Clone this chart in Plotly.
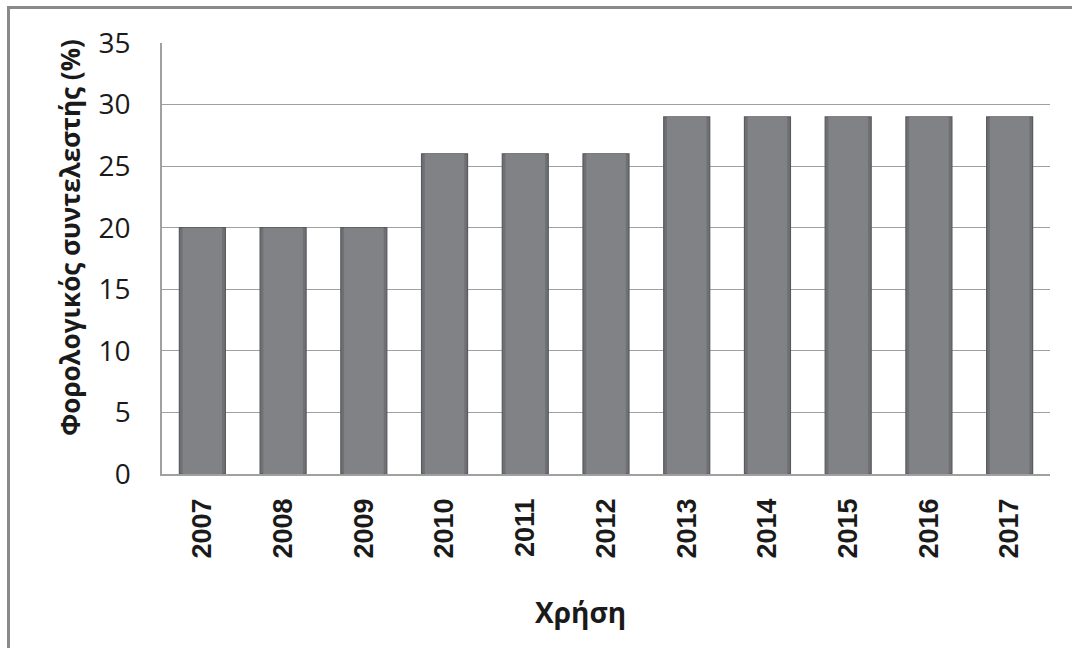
import plotly.graph_objects as go

# Tax rate by fiscal year
years = ["2007", "2008", "2009", "2010", "2011", "2012",
         "2013", "2014", "2015", "2016", "2017"]
rates = [20, 20, 20, 26, 26, 26, 29, 29, 29, 29, 29]
y_ticks = [0, 5, 10, 15, 20, 25, 30, 35]

W, H = 1072, 648
L, R, T, B = 162, 22, 43, 174
pw, ph = W - L - R, H - T - B

def px_x(x):
    return (x - L) / pw

def px_y(y):
    return (H - B - y) / ph

fig = go.Figure()
# outer bar body with darker bevelled edges
fig.add_trace(go.Bar(
    x=years, y=rates,
    marker=dict(color="#6f7074", line=dict(color="#595a5e", width=1.2)),
    width=0.57, hoverinfo="skip",
))
# lighter inner face
fig.add_trace(go.Bar(
    x=years, y=rates,
    marker=dict(color="#818286", line=dict(width=0)),
    width=0.49,
))

fig.update_layout(
    width=W, height=H,
    margin=dict(l=L, r=R, t=T, b=B),
    paper_bgcolor="white", plot_bgcolor="white",
    showlegend=False,
    barmode="overlay",
    font=dict(family="Open Sans", color="#1a1a1a"),
    xaxis=dict(
        type="category",
        tickangle=-90,
        tickfont=dict(family="Liberation Sans", size=27, color="#1a1a1a",
                      weight="bold"),
        ticks="", ticklabelstandoff=12,
        showline=True, linecolor="#a0a0a0", linewidth=1.5,
        showgrid=False,
    ),
    yaxis=dict(
        range=[0, 35],
        tickvals=y_ticks,
        tickfont=dict(family="Open Sans", size=28, color="#1a1a1a"),
        ticks="", ticklabelstandoff=24,
        showline=True, linecolor="#a0a0a0", linewidth=1.5,
        showgrid=True, gridcolor="#a0a0a0", gridwidth=1.2,
        zeroline=False,
    ),
    bargap=0.43,
)

# Axis titles
fig.add_annotation(
    text="<b>Φορολογικός συντελεστής (%)</b>",
    xref="paper", yref="paper", x=px_x(70), y=px_y(238),
    xanchor="center", yanchor="middle",
    textangle=-90, showarrow=False,
    font=dict(family="Open Sans", size=26, color="#1a1a1a"),
)
fig.add_annotation(
    text="<b>Χρήση</b>",
    xref="paper", yref="paper", x=px_x(580), y=px_y(612),
    xanchor="center", yanchor="middle",
    showarrow=False,
    font=dict(family="Open Sans", size=28, color="#1a1a1a"),
)

# Outer chart frame
fig.add_shape(
    type="rect", xref="paper", yref="paper",
    x0=px_x(8.5), x1=px_x(1080), y0=px_y(660), y1=px_y(7.5),
    line=dict(color="#8a8a8a", width=3), layer="above",
)

fig.write_html("out.html")
